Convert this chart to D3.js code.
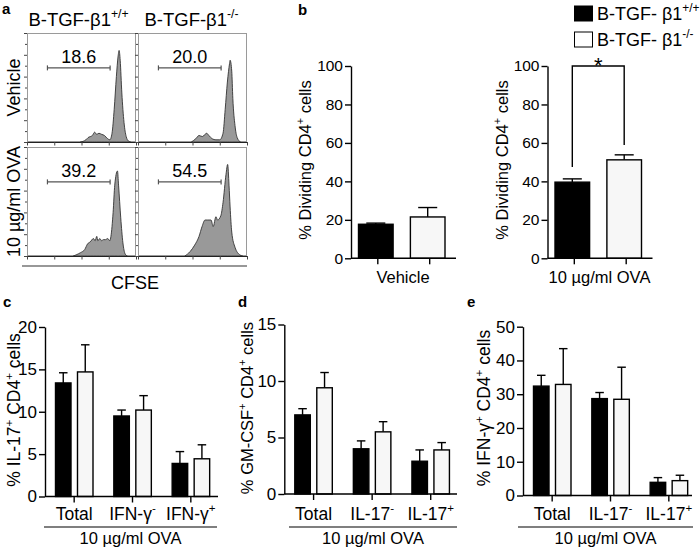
<!DOCTYPE html>
<html><head><meta charset="utf-8">
<script src="https://cdn.jsdelivr.net/npm/d3@7"></script>
<style>
html,body{margin:0;padding:0;background:#fff;}
svg text{font-family:"Liberation Sans",Arial,Helvetica,sans-serif;fill:#000;}
</style></head><body>
<svg id="chart" width="700" height="557"></svg>
<script>
// ---------------- DATA ----------------
// Panel a: CFSE histograms, x = log10 CFSE intensity, y = % of max
const histColumns = ["B-TGF-β1+/+", "B-TGF-β1-/-"];
const histRows = ["Vehicle", "10 µg/ml OVA"];
const histVehicleWT = [[1.96,0],[2.16,2],[2.24,4],[2.4,6],[2.48,9],[2.56,7],[2.64,8],[2.74,7],[2.84,6],[2.96,3],[3.04,2],[3.12,8],[3.2,30],[3.28,60],[3.34,78],[3.38,84],[3.42,75],[3.48,45],[3.56,18],[3.64,5],[3.72,1],[3.8,0]];
const histVehicleKO = [[1.96,0],[2.12,3],[2.24,6],[2.36,5],[2.46,7],[2.52,8],[2.6,6],[2.72,3],[2.86,2],[3.0,2],[3.12,8],[3.2,30],[3.28,55],[3.36,72],[3.38,75],[3.44,65],[3.48,40],[3.56,15],[3.64,4],[3.76,0]];
const histOvaWT = [[1.7,0],[1.8,1],[1.96,3],[2.12,6],[2.22,11],[2.32,13],[2.44,16],[2.5,14],[2.56,18],[2.6,14],[2.67,16],[2.74,14],[2.8,15],[2.88,15],[2.96,16],[3.04,14],[3.08,18],[3.16,40],[3.22,65],[3.32,78],[3.36,65],[3.44,35],[3.52,12],[3.6,2],[3.68,0]];
const histOvaKO = [[1.72,0],[1.91,4],[2.08,10],[2.24,18],[2.35,27],[2.46,33],[2.56,33],[2.68,33],[2.76,27],[2.86,36],[2.92,33],[3.04,37],[3.12,49],[3.23,75],[3.29,84],[3.34,65],[3.38,45],[3.44,22],[3.56,8],[3.74,1],[3.84,0]];
const gatePercents = [["18.6", "20.0"], ["39.2", "54.5"]];
const gateRange = [0.75, 3.05];
const gateLevel = 68;

// Legend
const seriesNames = ["B-TGF- β1+/+", "B-TGF- β1-/-"];

// Panel b
const bGroups = ["Vehicle", "10 µg/ml OVA"];
const bWT = [17.7, 39.6], bWTsem = [0.6, 1.7];
const bKO = [21.5, 51.2], bKOsem = [4.9, 2.6];
const bTicks = [0, 20, 40, 60, 80, 100];
const bSignif = [100, 47.5, 58.9];

// Panel c
const cCats = ["Total", "IFN-γ-", "IFN-γ+"];
const cWT = [13.4, 9.5, 3.9], cWTsem = [1.2, 0.7, 1.4];
const cKO = [14.7, 10.2, 4.45], cKOsem = [3.2, 1.7, 1.65];
const cTicks = [0, 5, 10, 15, 20];

// Panel d
const dCats = ["Total", "IL-17-", "IL-17+"];
const dWT = [7.0, 4.0, 2.9], dWTsem = [0.55, 0.7, 1.0];
const dKO = [9.4, 5.5, 3.9], dKOsem = [1.35, 0.9, 0.65];
const dTicks = [0, 5, 10, 15];

// Panel e
const eCats = ["Total", "IL-17-", "IL-17+"];
const eWT = [32.4, 28.7, 3.9], eWTsem = [3.2, 1.8, 1.4];
const eKO = [32.9, 28.5, 4.4], eKOsem = [10.6, 9.5, 1.6];
const eTicks = [0, 10, 20, 30, 40, 50];

const groupLabel = "10 µg/ml OVA";

// ---------------- HELPERS ----------------
const svg = d3.select("#chart");
const FONT = '"Liberation Sans",Arial,Helvetica,sans-serif';

function splitSup(label) {
  let m = label.match(/^(.*?β1)([+\-]\/[+\-])$/);
  if (m) return [m[1], [m[2]]];
  m = label.match(/^(.*[γ7])([+\-])$/);
  if (m) return [m[1], [m[2]]];
  return [label];
}
function rich(textSel, parts, size) {
  let shift = 0;
  parts.forEach(p => {
    const isSup = Array.isArray(p);
    const ts = textSel.append("tspan").text(isSup ? p[0] : p);
    const target = isSup ? -size * 0.42 : 0;
    const dy = target - shift;
    if (dy !== 0) ts.attr("dy", dy);
    if (isSup) ts.attr("font-size", size * 0.66);
    shift = target;
  });
  return textSel;
}
function addText(g, x, y, parts, size, opts = {}) {
  const t = g.append("text").attr("x", x).attr("y", y)
    .attr("font-size", size).attr("text-anchor", opts.anchor || "start");
  if (opts.weight) t.attr("font-weight", opts.weight);
  if (opts.rotate) t.attr("x", 0).attr("y", 0).attr("transform", `translate(${x},${y}) rotate(-90)`);
  return rich(t, parts, size);
}

// ---------------- PANEL A ----------------
const gA = svg.append("g");
addText(gA, 2, 14, ["a"], 15, {weight: "bold"});
const boxX = [27, 138], boxY = [33, 147], boxW = 109, boxH = 109;
const titleShift = [-3, -1];
const histData = [[histVehicleWT, histVehicleKO], [histOvaWT, histOvaKO]];

histColumns.forEach((c, ci) => {
  addText(gA, boxX[ci] + boxW / 2 + titleShift[ci], 26, splitSup(c), 18.5, {anchor: "middle"});
});
histRows.forEach((r, ri) => {
  addText(gA, 19.5, boxY[ri] + boxH / 2, [r], 18, {anchor: "middle", rotate: true});
});

for (let ri = 0; ri < 2; ri++) {
  for (let ci = 0; ci < 2; ci++) {
    const x0 = boxX[ci], y0 = boxY[ri];
    const xs = d3.scaleLinear().domain([0, 4]).range([x0, x0 + boxW]);
    const xsLog = d3.scaleLog().domain([1, 10000]).range([x0, x0 + boxW]);
    const ys = d3.scaleLinear().domain([0, 100]).range([y0 + boxH, y0]);
    const g = gA.append("g");
    g.append("rect").attr("x", x0 + 0.5).attr("y", y0 + 0.5).attr("width", boxW - 1).attr("height", boxH - 1)
      .attr("fill", "none").attr("stroke", "#9a9a9a").attr("stroke-width", 1);
    const area = d3.area().x(d => xs(d[0])).y0(ys(0)).y1(d => ys(d[1])).curve(d3.curveMonotoneX);
    g.append("path").datum(histData[ri][ci]).attr("d", area)
      .attr("fill", "#999").attr("stroke", "#333").attr("stroke-width", 0.9);
    const yAx = d3.axisLeft(ys).tickValues(d3.range(0, 101, 10)).tickSize(3).tickFormat("");
    const ya = g.append("g").attr("transform", `translate(${x0},0)`).call(yAx);
    ya.select(".domain").remove();
    ya.selectAll(".tick line").attr("stroke", "#444").attr("x2", (d) => d % 20 === 0 ? -3 : -2);
    const xAx = d3.axisBottom(xsLog).ticks(4).tickSize(3).tickFormat("");
    const xa = g.append("g").attr("transform", `translate(0,${y0 + boxH})`).call(xAx);
    xa.select(".domain").attr("stroke", "#222");
    xa.selectAll(".tick line").attr("stroke", "#444")
      .attr("y2", d => Math.abs(Math.log10(d) - Math.round(Math.log10(d))) < 1e-6 ? 3.5 : 2);
    const gy = ys(gateLevel);
    const gx1 = xs(gateRange[0]), gx2 = xs(gateRange[1]);
    g.append("line").attr("x1", gx1).attr("x2", gx2).attr("y1", gy).attr("y2", gy).attr("stroke", "#555").attr("stroke-width", 1.2);
    [gx1, gx2].forEach(x => g.append("line").attr("x1", x).attr("x2", x).attr("y1", gy - 2.5).attr("y2", gy + 2.5).attr("stroke", "#555").attr("stroke-width", 1.2));
    addText(g, (gx1 + gx2) / 2, gy - 5, [gatePercents[ri][ci]], 18, {anchor: "middle"});
  }
}
gA.append("line").attr("x1", 22).attr("x2", 247).attr("y1", 266).attr("y2", 266).attr("stroke", "#333").attr("stroke-width", 1.2);
addText(gA, 135, 288.5, ["CFSE"], 18, {anchor: "middle"});

// ---------------- BAR PANEL HELPER ----------------
function barPanel(cfg) {
  const g = svg.append("g");
  const ys = d3.scaleLinear().domain([0, cfg.yMax]).range([cfg.yBase, cfg.yTop]);
  const xg = d3.scaleBand().domain(cfg.cats).range([cfg.x0, cfg.x1]).padding(0);
  const xs = d3.scaleBand().domain(["wt", "ko"]).range(cfg.inner).paddingInner(cfg.pIn);
  const bw = xs.bandwidth();
  const ya = g.append("g").attr("transform", `translate(${cfg.x0},0)`)
    .call(d3.axisLeft(ys).tickValues(cfg.ticks).tickSize(6).tickPadding(2).tickSizeOuter(0));
  ya.select(".domain").attr("stroke", "#000").attr("stroke-width", 1.4);
  ya.selectAll(".tick line").attr("stroke", "#000").attr("stroke-width", 1.4);
  ya.selectAll(".tick text").attr("font-size", cfg.tickFont).attr("font-family", FONT).attr("fill", "#000");
  const series = [
    {key: "wt", vals: cfg.wt, sem: cfg.wtSem, fill: "#000"},
    {key: "ko", vals: cfg.ko, sem: cfg.koSem, fill: "#f7f7f7"}
  ];
  series.forEach(s => {
    cfg.cats.forEach((c, i) => {
      const bx = xg(c) + xs(s.key);
      const cx = bx + bw / 2;
      const top = ys(s.vals[i]), errTop = ys(s.vals[i] + s.sem[i]);
      const capW = bw * 0.55;
      g.append("line").attr("x1", cx).attr("x2", cx).attr("y1", top).attr("y2", errTop).attr("stroke", "#000").attr("stroke-width", 1.4);
      g.append("line").attr("x1", cx - capW / 2).attr("x2", cx + capW / 2).attr("y1", errTop).attr("y2", errTop).attr("stroke", "#000").attr("stroke-width", 1.4);
      g.append("rect").attr("x", bx).attr("y", top).attr("width", bw).attr("height", ys(0) - top)
        .attr("fill", s.fill).attr("stroke", "#000").attr("stroke-width", 1.4);
    });
  });
  g.append("line").attr("x1", cfg.x0).attr("x2", cfg.axisEnd).attr("y1", ys(0)).attr("y2", ys(0)).attr("stroke", "#000").attr("stroke-width", 1.4);
  const tickPos = cfg.tickAtBars
    ? cfg.cats.flatMap(c => ["wt", "ko"].map(k => xg(c) + xs(k) + bw / 2 + 2))
    : cfg.cats.map(c => xg(c) + xg.bandwidth() / 2);
  tickPos.forEach(x => g.append("line").attr("x1", x).attr("x2", x).attr("y1", ys(0)).attr("y2", ys(0) + 6).attr("stroke", "#000").attr("stroke-width", 1.4));
  if (cfg.catLabelY) {
    cfg.cats.forEach(c => addText(g, xg(c) + xg.bandwidth() / 2, cfg.catLabelY, splitSup(c), cfg.catFont, {anchor: "middle"}));
  }
  if (cfg.underline) {
    g.append("line").attr("x1", cfg.underline[0]).attr("x2", cfg.underline[1]).attr("y1", cfg.underline[2]).attr("y2", cfg.underline[2]).attr("stroke", "#000").attr("stroke-width", 1.2);
    addText(g, (cfg.underline[0] + cfg.underline[1]) / 2, cfg.groupLabelY, [groupLabel], 16.5, {anchor: "middle"});
  }
  addText(g, cfg.yLabel.x, cfg.yLabel.y, cfg.yLabel.parts, cfg.yLabel.size, {anchor: "middle", rotate: true});
  if (cfg.letter) addText(g, cfg.letter[0], cfg.letter[1], [cfg.letter[2]], 15, {weight: "bold"});
  return {g, ys, xg, xs, bw};
}

// ---------------- PANEL B ----------------
const bLabelParts = ["% Dividing CD4", ["+"], " cells"];
const bAxisX = [351, 547.5];
bGroups.forEach((grp, i) => {
  const p = barPanel({
    cats: [grp], wt: [bWT[i]], wtSem: [bWTsem[i]], ko: [bKO[i]], koSem: [bKOsem[i]],
    yMax: 100, yBase: 258.3, yTop: 66, ticks: bTicks, tickFont: 15.5,
    x0: bAxisX[i], x1: bAxisX[i] + 100, inner: [7.5, 94], pIn: 0.333, axisEnd: bAxisX[i] + 105,
    tickAtBars: true, catLabelY: null, catFont: 16,
    yLabel: {x: i === 0 ? 311 : 508, y: 160, parts: bLabelParts, size: 16.5},
    letter: i === 0 ? [298, 15, "b"] : null
  });
  addText(p.g, bAxisX[i] + 52, 283, [grp], 16.5, {anchor: "middle"});
  if (i === 1) {
    const c1 = p.xg(grp) + p.xs("wt") + p.bw / 2;
    const c2 = p.xg(grp) + p.xs("ko") + p.bw / 2;
    const line = d3.line();
    p.g.append("path").attr("d", line([[c1, p.ys(bSignif[1])], [c1, p.ys(bSignif[0])], [c2, p.ys(bSignif[0])], [c2, p.ys(bSignif[2])]]))
      .attr("fill", "none").attr("stroke", "#000").attr("stroke-width", 1.4);
    addText(p.g, (c1 + c2) / 2, p.ys(bSignif[0]) + 7, ["*"], 22, {anchor: "middle"});
  }
});

// Legend
const gL = svg.append("g");
const legY = [6, 32];
seriesNames.forEach((s, i) => {
  gL.append("rect").attr("x", 574.5).attr("y", legY[i]).attr("width", 18).attr("height", 15)
    .attr("fill", i === 0 ? "#000" : "#fff").attr("stroke", "#000").attr("stroke-width", 1);
  addText(gL, 597, legY[i] + 14, splitSup(s), 18);
});

// ---------------- PANELS C, D, E ----------------
const innerCDE = [10.5, 48], pCDE = 0.295;
barPanel({
  cats: cCats, wt: cWT, wtSem: cWTsem, ko: cKO, koSem: cKOsem,
  yMax: 20, yBase: 496.5, yTop: 327, ticks: cTicks, tickFont: 17,
  x0: 45, x1: 220, inner: innerCDE, pIn: pCDE, axisEnd: 218,
  catLabelY: 519.5, catFont: 17.5, underline: [44, 217, 527], groupLabelY: 543.5,
  yLabel: {x: 20, y: 410, parts: ["% IL-17", ["+"], " CD4", ["+"], " cells"], size: 17.5},
  letter: [3, 307, "c"]
});
barPanel({
  cats: dCats, wt: dWT, wtSem: dWTsem, ko: dKO, koSem: dKOsem,
  yMax: 15, yBase: 494, yTop: 324.5, ticks: dTicks, tickFont: 17,
  x0: 284.3, x1: 460, inner: innerCDE, pIn: pCDE, axisEnd: 457,
  catLabelY: 519.5, catFont: 17.5, underline: [289, 457, 527], groupLabelY: 543.5,
  yLabel: {x: 253, y: 408, parts: ["% GM-CSF", ["+"], " CD4", ["+"], " cells"], size: 16.5},
  letter: [238, 307, "d"]
});
barPanel({
  cats: eCats, wt: eWT, wtSem: eWTsem, ko: eKO, koSem: eKOsem,
  yMax: 50, yBase: 495.5, yTop: 326.7, ticks: eTicks, tickFont: 17,
  x0: 523, x1: 698, inner: innerCDE, pIn: pCDE, axisEnd: 692,
  catLabelY: 519.5, catFont: 17.5, underline: [518, 693, 527], groupLabelY: 543.5,
  yLabel: {x: 490, y: 408, parts: ["% IFN-γ", ["+"], " CD4", ["+"], " cells"], size: 17.5},
  letter: [467, 307, "e"]
});
</script>
</body></html>
